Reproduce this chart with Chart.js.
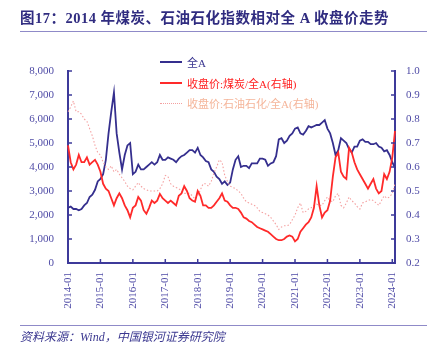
<!DOCTYPE html>
<html>
<head>
<meta charset="utf-8">
<script src="https://cdn.jsdelivr.net/npm/chart.js@4.4.0/dist/chart.umd.min.js"></script>
<style>
  html,body{margin:0;padding:0;background:#fff;}
  #wrap{position:relative;width:437px;height:353px;overflow:hidden;background:#fff;}
  #c{position:absolute;left:0;top:0;}
  .title{position:absolute;left:20px;top:6px;font-family:"Liberation Serif","Noto Sans CJK SC",serif;font-weight:bold;font-size:14.5px;color:#302c80;white-space:nowrap;letter-spacing:0.5px;}
  .rule{position:absolute;left:20px;width:407px;height:0;border-top:1px solid #8f8ac8;}
  .foot{position:absolute;left:20px;top:327px;font-family:"Liberation Serif","Noto Sans CJK SC",serif;font-style:italic;font-size:12px;color:#3b3890;white-space:nowrap;}
  .lg{position:absolute;left:160px;font-family:"Liberation Serif","Noto Sans CJK SC",serif;font-size:11px;white-space:nowrap;}
  .lg .ln{position:absolute;left:0;width:22px;height:0;}
  .lg .tx{position:absolute;left:27px;top:-8px;}
</style>
</head>
<body>
<div id="wrap">
  <canvas id="c" width="437" height="353"></canvas>
  <div class="title">图17：2014 年煤炭、石油石化指数相对全 A 收盘价走势</div>
  <div class="rule" style="top:31px;"></div>
  <div class="rule" style="top:325px;"></div>
  <div class="foot">资料来源：Wind，中国银河证券研究院</div>
  <div class="lg" style="top:62px;"><div class="ln" style="border-top:2px solid #352f8e;top:-1px;"></div><div class="tx" style="color:#3a3690;">全A</div></div>
  <div class="lg" style="top:83px;"><div class="ln" style="border-top:2px solid #ff2a2a;top:-1px;"></div><div class="tx" style="color:#ff2020;">收盘价:煤炭/全A(右轴)</div></div>
  <div class="lg" style="top:103px;"><div class="ln" style="border-top:1px dotted #f4a0a0;"></div><div class="tx" style="color:#f5b59a;">收盘价:石油石化/全A(右轴)</div></div>
</div>
<script>
// ---- data (monthly, 2014-01 .. 2024-02) ----
const years = [2014,2015,2016,2017,2018,2019,2020,2021,2022,2023,2024];
const monthNames = ["01","02","03","04","05","06","07","08","09","10","11","12"];
const lastYearMonths = 2;

const seriesNames = ["全A", "收盘价:煤炭/全A(右轴)", "收盘价:石油石化/全A(右轴)"];

const quanA = [
  2300,2350,2250,2250,2200,2250,2400,2500,2750,2850,3050,3400,
  3500,3700,4300,5400,6300,7100,5400,4600,3900,4500,4900,5000,
  3700,3800,4100,3900,3900,4000,4100,4200,4100,4200,4500,4300,
  4300,4400,4350,4300,4200,4350,4450,4500,4600,4700,4700,4600,
  4800,4500,4400,4250,4200,3900,3800,3600,3500,3300,3400,3250,
  3350,3900,4300,4450,4000,4050,4050,3950,4150,4150,4150,4350,
  4350,4300,4050,4150,4200,4450,5150,5200,5000,5100,5300,5400,
  5600,5650,5400,5350,5500,5700,5650,5700,5750,5750,5850,5950,
  5600,5400,5000,4500,4700,5200,5100,5000,4750,4600,4850,4850,
  5100,5150,5050,5050,4950,4950,5000,4850,4800,4650,4700,4500,
  4200,3950
];
const coalRatio = [
  0.69,0.62,0.59,0.61,0.65,0.62,0.62,0.64,0.61,0.62,0.63,0.61,
  0.58,0.53,0.51,0.50,0.47,0.44,0.47,0.49,0.47,0.44,0.42,0.39,
  0.43,0.44,0.475,0.46,0.42,0.405,0.43,0.46,0.45,0.46,0.488,0.47,
  0.46,0.45,0.46,0.45,0.44,0.48,0.49,0.52,0.50,0.47,0.46,0.455,
  0.50,0.48,0.44,0.44,0.43,0.43,0.44,0.455,0.47,0.49,0.46,0.455,
  0.44,0.43,0.43,0.425,0.41,0.39,0.385,0.375,0.37,0.36,0.35,0.345,
  0.34,0.335,0.33,0.32,0.31,0.30,0.295,0.295,0.30,0.31,0.315,0.31,
  0.29,0.30,0.33,0.345,0.36,0.37,0.39,0.43,0.52,0.44,0.39,0.41,
  0.42,0.46,0.56,0.64,0.66,0.58,0.56,0.55,0.68,0.66,0.62,0.59,
  0.57,0.55,0.53,0.51,0.53,0.55,0.51,0.49,0.50,0.57,0.55,0.58,
  0.64,0.75
];
const petroRatio = [
  0.83,0.85,0.875,0.83,0.83,0.82,0.80,0.79,0.76,0.73,0.69,0.66,
  0.65,0.62,0.60,0.59,0.605,0.58,0.59,0.57,0.555,0.54,0.52,0.51,
  0.505,0.52,0.535,0.52,0.51,0.505,0.50,0.50,0.50,0.50,0.51,0.53,
  0.565,0.56,0.53,0.52,0.515,0.51,0.50,0.49,0.49,0.49,0.48,0.467,
  0.48,0.505,0.53,0.53,0.52,0.54,0.575,0.60,0.63,0.62,0.565,0.54,
  0.52,0.515,0.51,0.50,0.49,0.47,0.455,0.45,0.445,0.44,0.43,0.415,
  0.41,0.405,0.40,0.39,0.375,0.36,0.34,0.35,0.355,0.355,0.36,0.38,
  0.40,0.43,0.45,0.41,0.415,0.425,0.43,0.44,0.445,0.44,0.44,0.46,
  0.475,0.46,0.455,0.48,0.49,0.44,0.43,0.45,0.475,0.46,0.45,0.435,
  0.425,0.45,0.455,0.46,0.465,0.46,0.45,0.44,0.46,0.48,0.47,0.475,
  0.49,0.53
];
const leftTicks = {min:0, max:8000, step:1000};
const rightTicks = {min:0.2, max:1.0, step:0.1};

// categories
const labels = [];
years.forEach((y, yi) => {
  const n = (yi === years.length - 1) ? lastYearMonths : 12;
  for (let m = 0; m < n; m++) labels.push(y + "-" + monthNames[m]);
});

const AXIS = '#3d3a9a';
const TICKTXT = '#4f4ba6';

const tickMarks = {
  id: 'tickMarks',
  afterDraw(chart) {
    const {ctx, chartArea, scales} = chart;
    ctx.save();
    ctx.strokeStyle = AXIS;
    ctx.lineWidth = 1.5;
    const L = 4;
    scales.y.ticks.forEach(t => {
      const y = scales.y.getPixelForValue(t.value);
      ctx.beginPath(); ctx.moveTo(chartArea.left, y); ctx.lineTo(chartArea.left + L, y); ctx.stroke();
    });
    scales.y1.ticks.forEach(t => {
      const y = scales.y1.getPixelForValue(t.value);
      ctx.beginPath(); ctx.moveTo(chartArea.right, y); ctx.lineTo(chartArea.right - L, y); ctx.stroke();
    });
    labels.forEach((l, i) => {
      if (l.endsWith('-01')) {
        const x = scales.x.getPixelForValue(i);
        ctx.beginPath(); ctx.moveTo(x, chartArea.bottom); ctx.lineTo(x, chartArea.bottom - L); ctx.stroke();
      }
    });
    ctx.restore();
  }
};

const tickFont = {family: '"Liberation Serif", "Times New Roman", serif', size: 11};

new Chart(document.getElementById('c'), {
  type: 'line',
  data: {
    labels: labels,
    datasets: [
      {label: seriesNames[0], data: quanA, yAxisID: 'y', borderColor: '#352f8e', borderWidth: 1.8, pointRadius: 0, tension: 0, order: 3},
      {label: seriesNames[1], data: coalRatio, yAxisID: 'y1', borderColor: '#ff2a2a', borderWidth: 1.8, pointRadius: 0, tension: 0, order: 1},
      {label: seriesNames[2], data: petroRatio, yAxisID: 'y1', borderColor: '#f4a0a0', borderWidth: 1.1, borderDash: [1.5, 2], pointRadius: 0, tension: 0, order: 2}
    ]
  },
  options: {
    responsive: false,
    animation: false,
    layout: {padding: {top: 71, left: 0, right: 0, bottom: 0}},
    plugins: {legend: {display: false}, tooltip: {enabled: false}},
    scales: {
      x: {
        type: 'category',
        offset: false,
        grid: {display: true, drawOnChartArea: false, drawTicks: false},
        border: {display: true, color: AXIS, width: 2},
        ticks: {
          autoSkip: false, maxRotation: 90, minRotation: 90, padding: 9,
          color: TICKTXT, font: tickFont,
          callback: function(v) { const l = this.getLabelForValue(v); return l.endsWith('-01') ? l : null; }
        },
        afterFit: s => { s.height = 90; }
      },
      y: {
        position: 'left', min: leftTicks.min, max: leftTicks.max,
        grid: {display: true, drawOnChartArea: false, drawTicks: false},
        border: {display: true, color: AXIS, width: 2},
        ticks: {stepSize: leftTicks.step, padding: 14, color: TICKTXT, font: tickFont,
          callback: v => v.toLocaleString('en-US')},
        afterFit: s => { s.width = 68; }
      },
      y1: {
        position: 'right', min: rightTicks.min, max: rightTicks.max,
        grid: {display: true, drawOnChartArea: false, drawTicks: false},
        border: {display: true, color: AXIS, width: 2},
        ticks: {stepSize: rightTicks.step, padding: 11, color: TICKTXT, font: tickFont,
          callback: v => v.toFixed(1)},
        afterFit: s => { s.width = 42; }
      }
    }
  },
  plugins: [tickMarks]
});
</script>
</body>
</html>
